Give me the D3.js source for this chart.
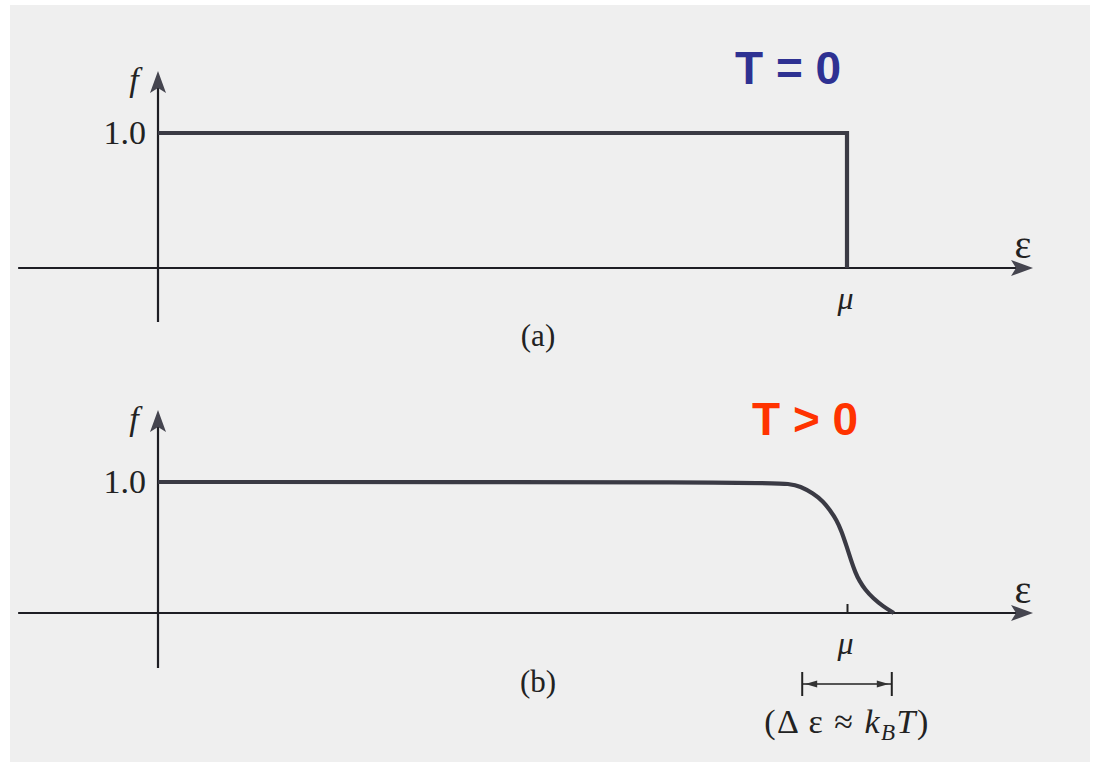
<!DOCTYPE html>
<html>
<head>
<meta charset="utf-8">
<script src="https://cdn.jsdelivr.net/npm/d3@7"></script>
<style>
  html, body { margin: 0; padding: 0; background: #ffffff; }
  svg { display: block; }
</style>
</head>
<body>
<svg id="chart" width="1095" height="762"></svg>
<script>
// Fermi–Dirac occupation f(ε); energies in units of the chemical potential μ.
const mu = 1.0;

// (a) T = 0: sharp step at μ
const energyT0 = [0, 1.0, 1.0];
const occT0    = [1, 1, 0];

// (b) T > 0: smeared edge around μ
const energyT = [0, 0.885, 0.917, 0.932, 0.951, 0.966, 0.975, 0.985, 0.992, 1.0, 1.006, 1.012, 1.018, 1.026, 1.038, 1.053, 1.068];
const occT    = [1, 1.0, 0.985, 0.969, 0.913, 0.850, 0.786, 0.710, 0.625, 0.50, 0.40, 0.31, 0.245, 0.18, 0.112, 0.048, 0];

// width of the smeared region, Δε ≈ k_B T
const deltaRange = [0.935, 1.065];

const panelTitles = ["T = 0", "T > 0"];
const panelTags   = ["(a)", "(b)"];
const yTickLabel  = "1.0";

const ink = "#3a3a44";
const serif = "'Liberation Serif', 'Times New Roman', serif";
const svg = d3.select("#chart");

// paper
svg.append("rect").attr("x", 10).attr("y", 5).attr("width", 1080).attr("height", 757)
  .attr("fill", "#efefef");

const x = d3.scaleLinear().domain([0, 1]).range([158, 847]);
const xAxisExtent = [-0.203, 1.27];

const panels = [
  { y: d3.scaleLinear().domain([0, 1]).range([268, 133]), yExtent: [-0.40, 1.46],
    title: panelTitles[0], titleColor: "#2e3192", titleX: 735, titleY: 84,
    tag: panelTags[0], tagY: 346, e: energyT0, f: occT0, curve: d3.curveLinear, muTick: false },
  { y: d3.scaleLinear().domain([0, 1]).range([613, 482]), yExtent: [-0.42, 1.55],
    title: panelTitles[1], titleColor: "#ff3300", titleX: 752, titleY: 435,
    tag: panelTags[1], tagY: 692, e: energyT, f: occT, curve: d3.curveBasis, muTick: true }
];

function arrowHead(g, tipX, tipY, dir) {
  const L = 22, W = 8;
  let pts;
  if (dir === "right") pts = [[tipX, tipY], [tipX - L, tipY - W], [tipX - L + 5, tipY], [tipX - L, tipY + W]];
  else pts = [[tipX, tipY], [tipX - W, tipY + L], [tipX, tipY + L - 5], [tipX + W, tipY + L]];
  g.append("path").attr("d", "M" + pts.map(p => p.join(",")).join("L") + "Z").attr("fill", "#45454f");
}

panels.forEach(p => {
  const g = svg.append("g");

  // horizontal ε axis
  const x0 = x(xAxisExtent[0]), x1 = x(xAxisExtent[1]);
  g.append("line").attr("x1", x0).attr("x2", x1 - 8).attr("y1", p.y(0)).attr("y2", p.y(0))
    .attr("stroke", "#1e1e24").attr("stroke-width", 2.2);
  arrowHead(g, x1, p.y(0), "right");

  // vertical f axis
  const yTop = p.y(p.yExtent[1]), yBot = p.y(p.yExtent[0]);
  g.append("line").attr("x1", x(0)).attr("x2", x(0)).attr("y1", yTop + 8).attr("y2", yBot)
    .attr("stroke", "#1e1e24").attr("stroke-width", 2.2);
  arrowHead(g, x(0), yTop, "up");

  // occupation curve
  const pts = p.e.map((e, i) => [e, p.f[i]]);
  g.append("path").datum(pts)
    .attr("d", d3.line().x(d => x(d[0])).y(d => p.y(d[1])).curve(p.curve))
    .attr("fill", "none").attr("stroke", ink).attr("stroke-width", 4.2)
    .attr("stroke-linejoin", "miter");

  // μ label via axis
  const ax = d3.axisBottom(x).tickValues([mu]).tickFormat(() => "μ")
    .tickSizeInner(p.muTick ? -9 : 0).tickSizeOuter(0).tickPadding(18);
  const axG = g.append("g").attr("transform", `translate(0,${p.y(0)})`).call(ax);
  axG.select(".domain").remove();
  axG.selectAll(".tick line").attr("stroke", "#222").attr("stroke-width", 2);
  axG.selectAll(".tick text")
    .attr("font-family", serif).attr("font-style", "italic")
    .attr("font-size", 32).attr("fill", "#222").attr("dx", -2);

  // ε axis label
  g.append("text").attr("x", 1023).attr("y", p.y(0) - 10).attr("text-anchor", "middle")
    .attr("font-family", serif).attr("font-size", 40).attr("fill", "#222")
    .text("ε");

  // f axis label and 1.0
  g.append("text").attr("x", 134).attr("y", yTop + 20).attr("text-anchor", "middle")
    .attr("font-family", serif).attr("font-style", "italic")
    .attr("font-size", 34).attr("fill", "#222").text("f");
  g.append("text").attr("x", 146).attr("y", p.y(1) + 11).attr("text-anchor", "end")
    .attr("font-family", serif).attr("font-size", 34).attr("fill", "#222")
    .text(yTickLabel);

  // panel tag
  g.append("text").attr("x", 538).attr("y", p.tagY).attr("text-anchor", "middle")
    .attr("font-family", serif).attr("font-size", 31).attr("fill", "#222")
    .text(p.tag);

  // temperature title
  g.append("text").attr("x", p.titleX).attr("y", p.titleY)
    .attr("font-family", "'Liberation Sans', Arial, sans-serif").attr("font-weight", "bold")
    .attr("font-size", 46).attr("fill", p.titleColor).text(p.title);
});

// Δε bracket under panel (b)
const bY = 684;
const bx0 = x(deltaRange[0]), bx1 = x(deltaRange[1]);
const br = svg.append("g").attr("stroke", "#222");
br.append("line").attr("x1", bx0).attr("x2", bx1).attr("y1", bY).attr("y2", bY).attr("stroke-width", 1.5);
br.append("line").attr("x1", bx0).attr("x2", bx0).attr("y1", bY - 12).attr("y2", bY + 12).attr("stroke-width", 2);
br.append("line").attr("x1", bx1).attr("x2", bx1).attr("y1", bY - 12).attr("y2", bY + 12).attr("stroke-width", 2);
br.append("path").attr("stroke", "none").attr("fill", "#333")
  .attr("d", `M${bx0 + 3},${bY}L${bx0 + 15},${bY - 3.5}L${bx0 + 15},${bY + 3.5}Z`);
br.append("path").attr("stroke", "none").attr("fill", "#333")
  .attr("d", `M${bx1 - 3},${bY}L${bx1 - 15},${bY - 3.5}L${bx1 - 15},${bY + 3.5}Z`);

const ann = svg.append("text").attr("x", x(mu)).attr("y", 733).attr("text-anchor", "middle")
  .attr("font-family", serif).attr("font-size", 34).attr("letter-spacing", 1.5).attr("fill", "#222");
ann.append("tspan").text("(Δ ε ≈ ");
ann.append("tspan").attr("font-style", "italic").text("k");
ann.append("tspan").attr("font-style", "italic").attr("font-size", 23).attr("dy", 7).text("B");
ann.append("tspan").attr("font-style", "italic").attr("dy", -7).text("T");
ann.append("tspan").text(")");
</script>
</body>
</html>
